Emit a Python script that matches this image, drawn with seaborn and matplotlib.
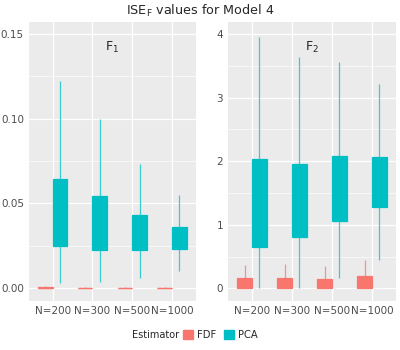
import numpy as np
import pandas as pd
import matplotlib
matplotlib.use("Agg")
import matplotlib.pyplot as plt
from matplotlib.patches import Patch
from matplotlib.ticker import MultipleLocator
import seaborn as sns

# sample sizes and estimators
sizes = ["N=200", "N=300", "N=500", "N=1000"]
estimators = ["FDF", "PCA"]
colors = {"FDF": "#F8766D", "PCA": "#00BFC4"}

# five-number summaries (min, q1, median, q3, max)
f1_fdf = [[0.0, 0.0002, 0.0004, 0.0008, 0.0012],
          [0.0, 0.0001, 0.0002, 0.0004, 0.0006],
          [0.0, 0.0001, 0.0002, 0.0003, 0.0005],
          [0.0, 0.0001, 0.0002, 0.0003, 0.0005]]
f1_pca = [[0.003, 0.0249, 0.040, 0.0643, 0.122],
          [0.0037, 0.0227, 0.035, 0.0543, 0.100],
          [0.0062, 0.0227, 0.031, 0.0431, 0.0731],
          [0.0104, 0.0231, 0.029, 0.0362, 0.055]]
f2_fdf = [[0.0, 0.0, 0.07, 0.157, 0.367],
          [0.0, 0.0, 0.07, 0.16, 0.38],
          [0.0, 0.0, 0.07, 0.15, 0.355],
          [0.0, 0.0, 0.08, 0.19, 0.45]]
f2_pca = [[0.0, 0.645, 1.3, 2.03, 3.95],
          [0.0, 0.81, 1.35, 1.95, 3.64],
          [0.157, 1.055, 1.55, 2.08, 3.56],
          [0.45, 1.275, 1.65, 2.07, 3.22]]


def to_frame(fdf, pca):
    rows = []
    for est, summ in (("FDF", fdf), ("PCA", pca)):
        for n, vals in zip(sizes, summ):
            for v in vals:
                rows.append({"N": n, "Estimator": est, "value": v})
    return pd.DataFrame(rows)


sns.set_theme(style="darkgrid", rc={
    "axes.facecolor": "#EBEBEB",
    "grid.color": "white",
    "axes.edgecolor": "#EBEBEB",
    "xtick.color": "#4D4D4D",
    "ytick.color": "#4D4D4D",
})
plt.rcParams["font.family"] = ["DejaVu Sans"]

fig = plt.figure(figsize=(4, 3.5), dpi=100)
ax1 = fig.add_axes([0.072, 0.14, 0.418, 0.797])
ax2 = fig.add_axes([0.57, 0.14, 0.42, 0.797])

panels = [(ax1, to_frame(f1_fdf, f1_pca), (-0.0075, 0.157), 0.05, r"F$_1$"),
          (ax2, to_frame(f2_fdf, f2_pca), (-0.2, 4.19), 1, r"F$_2$")]

for ax, df, ylim, step, label in panels:
    for est in estimators:
        c = colors[est]
        sns.boxplot(data=df[df["Estimator"] == est], x="N", y="value",
                    hue="Estimator", hue_order=estimators, order=sizes,
                    palette=colors, saturation=1, dodge=True,
                    whis=np.inf, width=0.74, gap=0, showcaps=False,
                    linewidth=0.9, linecolor=c, fliersize=0,
                    whiskerprops={"color": c, "alpha": 0.75},
                    legend=False, ax=ax)
    ax.set_ylim(*ylim)
    ax.set_xlim(-0.6, 3.6)
    ax.yaxis.set_major_locator(MultipleLocator(step))
    ax.yaxis.set_minor_locator(MultipleLocator(step / 2))
    ax.grid(which="major", color="white", lw=0.9)
    ax.grid(which="minor", axis="y", color="white", lw=0.45)
    ax.set_axisbelow(True)
    ax.set_xlabel("")
    ax.set_ylabel("")
    ax.tick_params(axis="both", labelsize=7.5, length=2, width=0.6,
                   colors="#4D4D4D", pad=1.5)
    for sp in ax.spines.values():
        sp.set_visible(False)
    ax.text(0.5, 0.91, label, transform=ax.transAxes, ha="center",
            va="center", fontsize=9)

ax1.yaxis.set_major_formatter(plt.FormatStrFormatter("%.2f"))
ax2.yaxis.set_major_formatter(plt.FormatStrFormatter("%d"))

fig.text(0.5, 0.97, r"ISE$_\mathrm{F}$ values for Model 4", ha="center",
         va="center", fontsize=9.2)

handles = [Patch(facecolor=colors[e], edgecolor=colors[e], label=e)
           for e in estimators]
fig.text(0.447, 0.043, "Estimator", ha="right", va="center", fontsize=7)
fig.legend(handles=handles, loc="center left", bbox_to_anchor=(0.457, 0.043),
           ncol=2, frameon=False, fontsize=7.2, handlelength=1.0,
           handleheight=1.0, handletextpad=0.45, columnspacing=0.7,
           borderaxespad=0, borderpad=0)

fig.savefig("out.png", dpi=100)
